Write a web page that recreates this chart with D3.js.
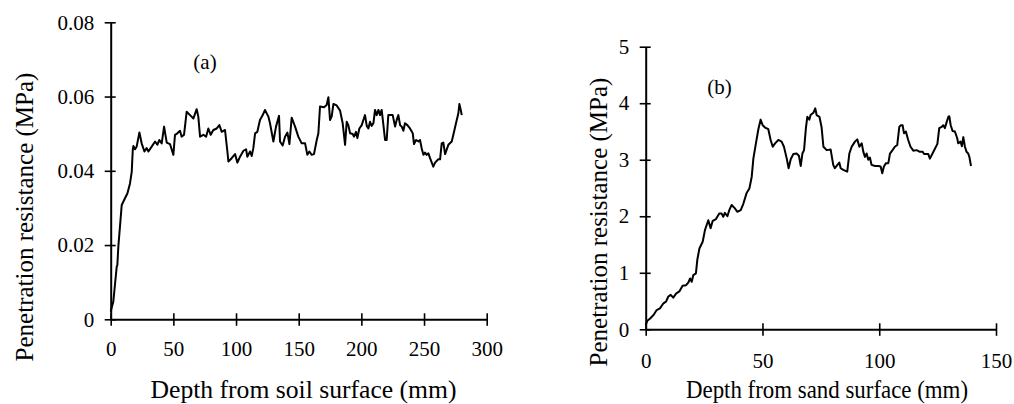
<!DOCTYPE html>
<html><head><meta charset="utf-8">
<script src="https://cdn.jsdelivr.net/npm/d3@7/dist/d3.min.js"></script>
<style>
body{margin:0;background:#fff}
svg{display:block}
text{font-family:"Liberation Serif","Times New Roman",serif;fill:#000}
</style>
</head><body>
<svg id="chart" width="1014" height="404"></svg>
<script>
// ---- Data (a): soil ----
const soilDepth = [0,2.1,4.8,5.3,6.1,8.8,11.4,13.3,15.4,16.8,17.6,18.1,19.4,20.7,22.9,24.7,26.9,28.7,30.1,32.7,35.4,37.2,38.8,40.7,42.6,44.7,47.3,50.0,51.3,53.2,55.3,56.6,58.5,60.6,63.3,66.0,68.6,69.9,71.3,73.9,76.1,77.9,79.8,81.9,84.6,86.7,88.6,91.2,93.1,93.9,96.5,99.2,101.1,103.2,105.9,108.0,109.0,111.2,112.5,113.8,115.2,117.0,119.1,121.3,123.1,125.8,127.1,129.8,131.9,134.3,135.1,137.2,139.1,141.0,142.6,144.4,147.1,149.7,152.4,155.1,156.9,158.5,160.4,162.2,164.4,165.7,167.0,170.2,172.3,173.7,175.0,176.3,177.7,180.3,183.0,185.1,187.0,188.3,189.6,191.0,193.1,194.1,195.7,196.8,198.4,200.3,201.6,202.9,204.3,205.6,206.9,208.2,209.6,210.9,212.2,213.6,214.9,216.2,217.6,218.9,220.2,221.5,222.9,225.0,226.9,228.2,229.5,230.9,232.2,233.5,234.8,236.7,238.8,241.0,242.0,243.6,245.5,246.8,248.1,249.5,250.8,252.1,253.5,254.8,257.4,258.8,261.4,262.8,264.1,265.4,266.8,269.4,272.1,273.4,275.5,277.4,278.2,279.3,280.1];
const soilResistance = [0.0021,0.0048,0.0142,0.0146,0.0196,0.0308,0.0326,0.0339,0.0366,0.0398,0.0456,0.0467,0.0458,0.0465,0.0503,0.0474,0.0452,0.0461,0.0452,0.0465,0.0479,0.0470,0.0483,0.0474,0.0519,0.0476,0.0472,0.0443,0.0497,0.0501,0.0508,0.0492,0.0497,0.0559,0.0550,0.0541,0.0566,0.0546,0.0492,0.0497,0.0492,0.0514,0.0497,0.0510,0.0514,0.0523,0.0505,0.0510,0.0452,0.0425,0.0434,0.0445,0.0422,0.0438,0.0454,0.0458,0.0438,0.0452,0.0440,0.0461,0.0501,0.0505,0.0537,0.0550,0.0564,0.0546,0.0528,0.0479,0.0519,0.0548,0.0479,0.0468,0.0492,0.0503,0.0472,0.0543,0.0519,0.0492,0.0474,0.0474,0.0443,0.0452,0.0443,0.0445,0.0483,0.0501,0.0573,0.0571,0.0577,0.0598,0.0537,0.0546,0.0580,0.0576,0.0562,0.0528,0.0470,0.0532,0.0523,0.0501,0.0499,0.0492,0.0505,0.0488,0.0514,0.0523,0.0537,0.0550,0.0521,0.0514,0.0532,0.0521,0.0528,0.0564,0.0550,0.0564,0.0550,0.0564,0.0523,0.0483,0.0483,0.0550,0.0550,0.0550,0.0519,0.0537,0.0550,0.0523,0.0519,0.0508,0.0528,0.0523,0.0514,0.0501,0.0472,0.0483,0.0479,0.0483,0.0461,0.0443,0.0449,0.0443,0.0447,0.0434,0.0411,0.0422,0.0431,0.0431,0.0474,0.0476,0.0445,0.0470,0.0479,0.0497,0.0528,0.0555,0.0580,0.0564,0.0550];

// ---- Data (b): sand ----
const sandDepth = [0,0.7,1.9,3.3,4.7,6.1,7.6,8.7,9.7,10.7,11.8,13.0,14.4,15.8,17.3,18.3,19.0,19.7,20.4,21.5,22.1,23.0,24.4,25.4,26.8,27.8,28.7,30.1,31.5,32.5,33.2,33.9,35.0,35.8,36.8,38.2,39.2,40.7,41.8,43.2,44.4,45.4,46.1,47.2,48.2,49.2,50.1,51.1,52.5,53.5,54.4,55.4,56.8,58.2,59.2,60.4,61.2,62.1,63.2,64.6,65.6,66.4,67.1,67.8,68.6,69.2,70.1,70.6,71.8,72.6,73.2,74.4,75.3,76.1,77.5,79.2,80.3,81.0,82.1,82.9,83.5,84.6,86.3,87.2,88.2,89.6,90.6,91.5,92.5,93.2,93.9,94.6,95.3,96.0,96.7,98.2,99.6,100.6,101.3,102.0,102.9,103.9,104.6,105.7,106.7,107.7,108.6,109.2,110.0,110.6,111.4,112.4,113.4,114.6,116.0,117.4,118.6,119.2,120.3,121.0,121.7,123.2,124.9,125.7,126.7,127.4,128.1,128.9,129.6,130.0,130.6,131.4,132.4,133.4,133.8,134.8,135.4,136.0,136.7,137.4,138.1,138.6,139.3];
const sandResistance = [0.08,0.15,0.19,0.25,0.34,0.37,0.46,0.49,0.58,0.61,0.56,0.63,0.67,0.77,0.78,0.83,0.90,0.84,0.96,0.99,1.23,1.43,1.55,1.76,1.93,1.79,1.92,1.95,2.05,2.05,1.99,2.06,2.00,2.11,2.20,2.14,2.08,2.11,2.22,2.41,2.49,2.70,3.02,3.29,3.53,3.71,3.61,3.57,3.54,3.35,3.23,3.29,3.35,3.32,3.23,3.02,2.85,3.01,3.10,3.11,3.07,2.89,3.11,3.17,3.56,3.76,3.71,3.79,3.83,3.91,3.79,3.76,3.58,3.23,3.17,3.18,2.91,2.85,2.91,2.95,2.85,2.82,2.79,3.11,3.23,3.32,3.36,3.23,3.29,3.14,3.05,3.11,3.00,3.04,2.91,2.89,2.89,2.88,2.76,2.88,2.94,2.94,3.11,3.17,3.23,3.26,3.58,3.61,3.61,3.47,3.50,3.35,3.23,3.16,3.17,3.14,3.14,3.10,3.10,3.10,3.02,3.14,3.28,3.56,3.58,3.61,3.56,3.67,3.76,3.77,3.61,3.51,3.50,3.38,3.29,3.32,3.24,3.40,3.23,3.14,3.11,3.05,2.89];

// ---- Ticks & labels ----
const soilXTicks = [0,50,100,150,200,250,300];
const soilYTicks = [0,0.02,0.04,0.06,0.08];
const sandXTicks = [0,50,100,150];
const sandYTicks = [0,1,2,3,4,5];
const yTitle = "Penetration resistance (MPa)";
const soilXTitle = "Depth from soil surface (mm)";
const sandXTitle = "Depth from sand surface (mm)";
const soilPanelLabel = "(a)";
const sandPanelLabel = "(b)";

const svg = d3.select("#chart");

function panel(cfg) {
  const x = d3.scaleLinear().domain(cfg.xDomain).range(cfg.xRange);
  const y = d3.scaleLinear().domain(cfg.yDomain).range(cfg.yRange);
  const g = svg.append("g");

  const yAxis = g.append("g")
    .attr("transform", `translate(${cfg.xRange[0]},0)`)
    .call(d3.axisLeft(y).tickValues(cfg.yTicks).tickFormat(cfg.yFormat)
      .tickSizeInner(6).tickSizeOuter(0).tickPadding(10.5));
  const xAxis = g.append("g")
    .attr("transform", `translate(0,${cfg.yRange[0]})`)
    .call(d3.axisBottom(x).tickValues(cfg.xTicks).tickFormat(d3.format("d"))
      .tickSizeInner(6).tickSizeOuter(0));

  [yAxis, xAxis].forEach(a => {
    a.select(".domain").attr("stroke", "#000").attr("stroke-width", 2);
    a.selectAll(".tick line").attr("stroke", "#000").attr("stroke-width", 1.6);
    a.selectAll(".tick text").attr("font-size", 21).attr("font-family", "Liberation Serif").attr("fill", "#000");
  });
  yAxis.selectAll(".tick line").attr("x1", 5).attr("x2", -6);
  xAxis.selectAll(".tick line").attr("y1", -6).attr("y2", 6.5);
  xAxis.selectAll(".tick text").attr("y", cfg.xLabelY);

  const line = d3.line().x((d, i) => x(cfg.xs[i])).y((d, i) => y(cfg.ys[i]));
  g.append("path")
    .attr("d", line(cfg.xs))
    .attr("fill", "none").attr("stroke", "#000").attr("stroke-width", 2)
    .attr("stroke-linejoin", "round");

  g.append("text")
    .attr("transform", `translate(${cfg.yTitleX},${cfg.yTitleY}) rotate(-90)`)
    .attr("text-anchor", "middle").attr("font-size", 25).text(yTitle);
  const xt = g.append("text")
    .attr("x", cfg.xTitleX).attr("y", 398)
    .attr("text-anchor", "middle").attr("font-size", 25).text(cfg.xTitle);
  if (cfg.xTitleLen) xt.attr("textLength", cfg.xTitleLen).attr("lengthAdjust", "spacingAndGlyphs");
  g.append("text")
    .attr("x", cfg.labelX).attr("y", cfg.labelY)
    .attr("text-anchor", "middle").attr("font-size", 21).text(cfg.label);
}

panel({
  xDomain: [0, 300], yDomain: [0, 0.08],
  xRange: [110.7, 486.7], yRange: [319.3, 22.3],
  xTicks: soilXTicks, yTicks: soilYTicks,
  yFormat: d => d === 0 ? "0" : d3.format(".2f")(d),
  xs: soilDepth, ys: soilResistance, xLabelY: 21.8,
  yTitleX: 33, yTitleY: 217,
  xTitle: soilXTitle, xTitleX: 303.5, xTitleLen: 306,
  label: soilPanelLabel, labelX: 205, labelY: 69
});

panel({
  xDomain: [0, 150], yDomain: [0, 5],
  xRange: [645.7, 996], yRange: [329.3, 46.7],
  xTicks: sandXTicks, yTicks: sandYTicks,
  yFormat: d3.format("d"),
  xs: sandDepth, ys: sandResistance, xLabelY: 24,
  yTitleX: 607, yTitleY: 222,
  xTitle: sandXTitle, xTitleX: 827, xTitleLen: 282,
  label: sandPanelLabel, labelX: 719.5, labelY: 94
});
</script>
</body></html>
